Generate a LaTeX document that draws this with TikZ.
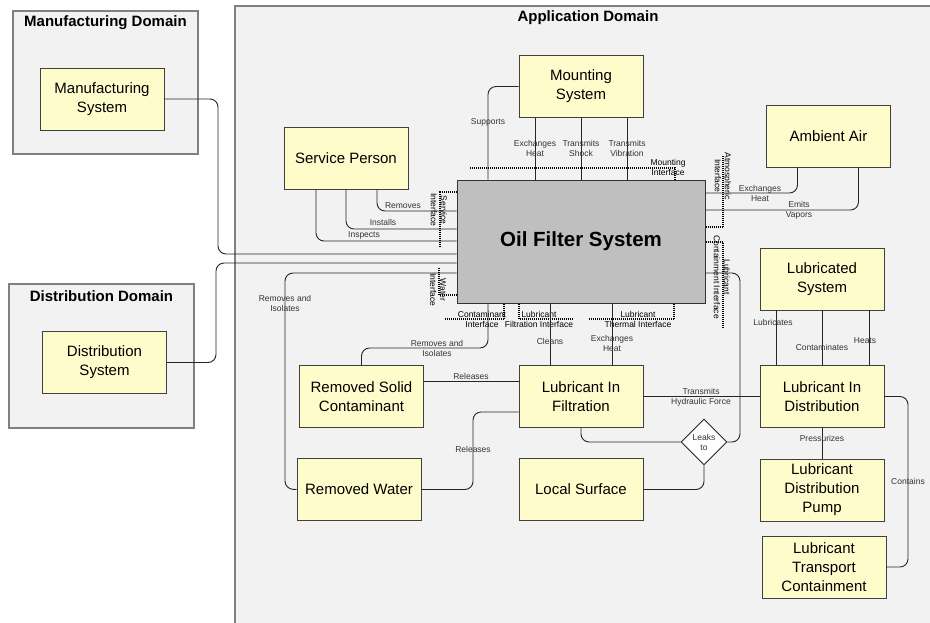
\documentclass[tikz,border=0pt]{standalone}
\usepackage{fontspec}
\setmainfont{Liberation Sans}
\usetikzlibrary{shapes.geometric}

\begin{document}
\begin{tikzpicture}[x=1pt, y=-1pt,
	dombox/.style={draw=black!50, line width=1.3pt, fill=black!5},
	domtitle/.style={inner sep=0pt, font=\fontsize{15}{17}\selectfont\bfseries},
	sys/.style={draw=black!75, line width=0.9pt, fill=yellow!20, minimum width=124pt, minimum height=62pt, align=center, font=\fontsize{15}{19}\selectfont},
	lbl/.style={inner sep=0pt, align=center, text=black!80, font=\fontsize{8.5}{10}\selectfont},
	link/.style={draw=black!85, line width=0.9pt, rounded corners=8pt},
	iface/.style={line width=1.6pt, dash pattern=on 1pt off 1pt}]
	\fill[white] (0,0) rectangle (930,622);
	\useasboundingbox (0,0) rectangle (930,622);

	% domains
	\draw[dombox] (13,11) rectangle (198,154);
	\draw[dombox] (9,284) rectangle (194,428);
	\fill[black!5] (235,6) rectangle (940,640);
	\draw[draw=black!50, line width=1.3pt] (940,6) -- (235,6) -- (235,640);
	\node[domtitle] (mdom) at (105.5,23) {Manufacturing Domain};
	\node[domtitle] (ddom) at (101.5,296) {Distribution Domain};
	\node[domtitle] (adom) at (588,18) {Application Domain};

	% systems
	\node[sys] (msys) at (102,99) {Manufacturing\\System};
	\node[sys] (dsys) at (104.5,362.5) {Distribution\\System};
	\node[sys] (mount) at (581,86.5) {Mounting\\System};
	\node[sys] (svc) at (346,158) {Service Person};
	\node[sys] (air) at (828.5,136) {Ambient Air};
	\node[sys] (lsys) at (822,279) {Lubricated\\System};
	\node[sys] (lid) at (822,396.5) {Lubricant In\\Distribution};
	\node[sys] (pump) at (822,490) {Lubricant\\Distribution\\Pump};
	\node[sys] (ltc) at (824,567) {Lubricant\\Transport\\Containment};
	\node[sys] (rsc) at (361.5,396.5) {Removed Solid\\Contaminant};
	\node[sys] (lif) at (581,396.5) {Lubricant In\\Filtration};
	\node[sys] (rw) at (359,489.5) {Removed Water};
	\node[sys] (ls) at (581,489.5) {Local Surface};
	\node[draw=black!80, line width=1pt, fill=black!25, minimum width=248pt, minimum height=123pt, font=\fontsize{20.5}{24}\selectfont\bfseries] (ofs) at (581,241.5) {Oil Filter System};
	\node[lbl, diamond, aspect=1, draw=black!85, line width=0.9pt, fill=white, minimum width=46pt, minimum height=46pt] (leak) at (704,442) {Leaks\\to};

	% interfaces
	\draw[iface] (470,168) -| (ofs.north -| 675,0);
	\draw[iface] (ofs.west |- 0,192) -| (440,246);
	\draw[iface] (ofs.west |- 0,295) -| (439,267);
	\draw[iface] (ofs.east |- 0,227) -| (723,155);
	\draw[iface] (ofs.east |- 0,242) -| (723,327);
	\draw[iface] (ofs.south -| 504,0) |- (445,319);
	\draw[iface] (ofs.south -| 519,0) |- (573,319);
	\draw[iface] (ofs.south -| 674,0) |- (589,319);
	\node[lbl, text=black] (mif) at (668,167) {Mounting\\Interface};
	\node[lbl, text=black, rotate=-90] (sif) at (439,210) {Service\\Interface};
	\node[lbl, text=black, rotate=-90] (wif) at (438,290) {Water\\Interface};
	\node[lbl, text=black, rotate=-90] (aif) at (723,176) {Atmospheric\\Interface};
	\node[lbl, text=black, rotate=-90] (cif) at (722,277) {Lubricant\\Containment Interface};
	\node[lbl, text=black] (scif) at (482,319) {Contaminant\\Interface};
	\node[lbl, text=black] (fif) at (539,319) {Lubricant\\Filtration Interface};
	\node[lbl, text=black] (tif) at (638,319) {Lubricant\\Thermal Interface};

	% outside domains
	\draw[link] (msys.east) -| (218,254) -- (ofs.west |- 0,254);
	\draw[link] (dsys.east) -| (216,263) -- (ofs.west |- 0,263);

	% service person
	\draw[link] ([xshift=31pt]svc.south) |- (ofs.west |- 0,211);
	\draw[link] (svc.south) |- (ofs.west |- 0,229);
	\draw[link] ([xshift=-30pt]svc.south) |- (ofs.west |- 0,241);
	\node[lbl] (l1) at (403,206) {Removes};
	\node[lbl] (l2) at (383,222) {Installs};
	\node[lbl] (l3) at (364,235) {Inspects};

	% mounting system
	\draw[link] (mount.west) -| (ofs.north -| 488,0);
	\foreach \dx in {-46,0,46}
		\draw[link] ([xshift=\dx pt]mount.south) -- ([xshift=\dx pt]mount.south |- ofs.north);
	\node[lbl] (l4) at (488,122) {Supports};
	\node[lbl] (l5) at (535,148) {Exchanges\\Heat};
	\node[lbl] (l6) at (581,148) {Transmits\\Shock};
	\node[lbl] (l7) at (627,148) {Transmits\\Vibration};

	% ambient air
	\draw[link] (ofs.east |- 0,193) -| ([xshift=-31pt]air.south);
	\draw[link] (ofs.east |- 0,210) -| ([xshift=30pt]air.south);
	\node[lbl] (l8) at (760,193) {Exchanges\\Heat};
	\node[lbl] (l9) at (799,210) {Emits\\Vapors};

	% filtration side
	\draw[link] (ofs.west |- 0,273) -| (285,489) -- (rw.west);
	\draw[link] (ofs.south -| 488,0) -- (488,348) -| (rsc.north);
	\draw[link] ([xshift=-31pt]lif.north) -- ([xshift=-31pt]lif.north |- ofs.south);
	\draw[link] ([xshift=31pt]lif.north) -- ([xshift=31pt]lif.north |- ofs.south);
	\draw[link] (rsc.east |- 0,381) -- (lif.west |- 0,381);
	\draw[link] (rw.east) -| (473,412) -- (lif.west |- 0,412);
	\draw[link] (lif.east) -- (lid.west);
	\draw[link] (lif.south) |- (leak.west);
	\draw[link] (leak.south) |- (ls.east);
	\draw[link] (ofs.east |- 0,273) -| (740,442) -- (leak.east);
	\node[lbl] (l10) at (285,303) {Removes and\\Isolates};
	\node[lbl] (l11) at (437,348) {Removes and\\Isolates};
	\node[lbl] (l12) at (550,341) {Cleans};
	\node[lbl] (l13) at (612,343) {Exchanges\\Heat};
	\node[lbl] (l14) at (471,376) {Releases};
	\node[lbl] (l15) at (473,449) {Releases};
	\node[lbl] (l16) at (701,397) {Transmits\\Hydraulic Force};

	% distribution side
	\foreach \dx in {-46,0,47}
		\draw[link] ([xshift=\dx pt]lsys.south) -- ([xshift=\dx pt]lsys.south |- lid.north);
	\draw[link] (lid.south) -- (pump.north);
	\draw[link] (lid.east) -| (908,567) -- (ltc.east);
	\node[lbl] (l17) at (773,322) {Lubricates};
	\node[lbl] (l18) at (822,347) {Contaminates};
	\node[lbl] (l19) at (865,341) {Heats};
	\node[lbl] (l20) at (822,438) {Pressurizes};
	\node[lbl] (l21) at (908,481) {Contains};
\end{tikzpicture}
\end{document}
